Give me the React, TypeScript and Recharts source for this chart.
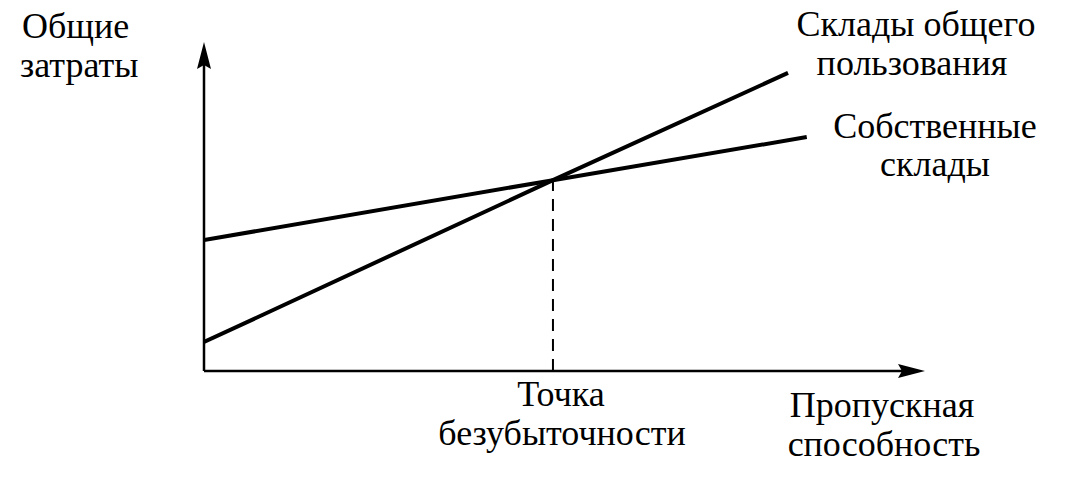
import { LineChart, Line, XAxis, YAxis, ReferenceLine, ReferenceDot } from 'recharts';

// throughput (x) and total cost (y) on a 0..100 scale
const ownX = [0, 48.4, 83.6];
const ownCost = [39.8, 58, 71.1];
const publicX = [0, 48.4, 81];
const publicCost = [8.8, 58, 90.6];
const breakX = 48.4;
const breakY = 58;

const ownData = ownX.map((x, i) => ({ x, cost: ownCost[i] }));
const publicData = publicX.map((x, i) => ({ x, cost: publicCost[i] }));

const font = '"Liberation Serif", "Times New Roman", serif';

const ArrowRight = (props: any) => {
  const { cx, cy } = props;
  return <polygon points={`${cx},${cy} ${cx - 27},${cy - 7} ${cx - 23},${cy} ${cx - 27},${cy + 7}`} fill="#000" />;
};

const ArrowUp = (props: any) => {
  const { cx, cy } = props;
  return <polygon points={`${cx},${cy} ${cx - 7},${cy + 27} ${cx},${cy + 23} ${cx + 7},${cy + 27}`} fill="#000" />;
};

const labels = [
  { text: 'Общие', x: 22, y: 38, anchor: 'start' },
  { text: 'затраты', x: 20, y: 77, anchor: 'start' },
  { text: 'Склады общего', x: 916, y: 36, anchor: 'middle' },
  { text: 'пользования', x: 912, y: 75, anchor: 'middle' },
  { text: 'Собственные', x: 935, y: 138, anchor: 'middle' },
  { text: 'склады', x: 935, y: 176, anchor: 'middle' },
  { text: 'Точка', x: 561, y: 406, anchor: 'middle' },
  { text: 'безубыточности', x: 562, y: 445, anchor: 'middle' },
  { text: 'Пропускная', x: 882, y: 417, anchor: 'middle' },
  { text: 'способность', x: 884, y: 456, anchor: 'middle' },
];

export default function App() {
  return (
    <div style={{ position: 'absolute', left: 0, top: 0, width: 1082, height: 481, background: '#fff' }}>
      <LineChart width={1082} height={481} margin={{ top: 42, right: 157, left: 204, bottom: 110 }}>
        <XAxis type="number" dataKey="x" domain={[0, 100]} allowDataOverflow hide />
        <YAxis type="number" domain={[0, 100]} allowDataOverflow hide />
        <ReferenceLine segment={[{ x: 0, y: 0 }, { x: 97, y: 0 }]} stroke="#000" strokeWidth={2.5} ifOverflow="visible" />
        <ReferenceLine segment={[{ x: 0, y: 0 }, { x: 0, y: 97 }]} stroke="#000" strokeWidth={2.5} ifOverflow="visible" />
        <ReferenceLine
          segment={[{ x: breakX, y: 0 }, { x: breakX, y: breakY }]}
          stroke="#000"
          strokeWidth={2}
          strokeDasharray="12 8"
        />
        <Line data={ownData} dataKey="cost" type="linear" stroke="#000" strokeWidth={4} dot={false} isAnimationActive={false} />
        <Line data={publicData} dataKey="cost" type="linear" stroke="#000" strokeWidth={4} dot={false} isAnimationActive={false} />
        <ReferenceDot x={100} y={0} r={0} shape={ArrowRight} ifOverflow="visible" />
        <ReferenceDot x={0} y={100} r={0} shape={ArrowUp} ifOverflow="visible" />
        {labels.map((l) => (
          <text key={l.text} x={l.x} y={l.y} textAnchor={l.anchor} fontFamily={font} fontSize={36} fill="#000">
            {l.text}
          </text>
        ))}
      </LineChart>
    </div>
  );
}
